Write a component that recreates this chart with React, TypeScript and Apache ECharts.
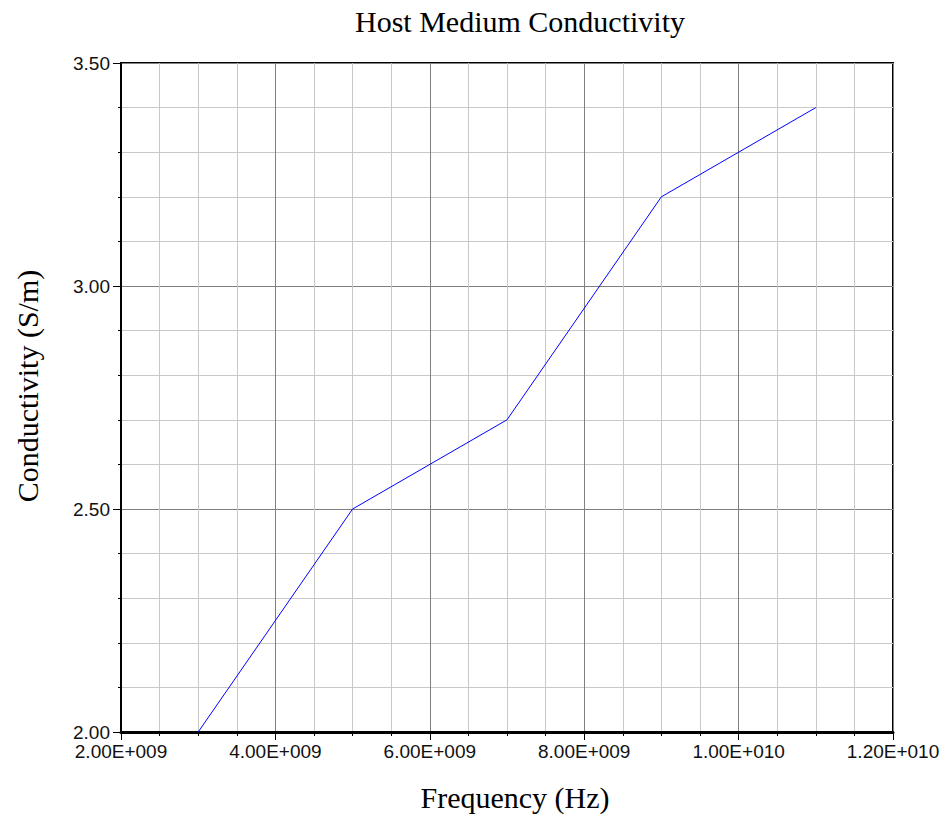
import React, { useEffect, useRef } from "react";
import * as echarts from "echarts";

const frequencies = [3e9, 5e9, 7e9, 9e9, 1.1e10];
const conductivity = [2.0, 2.5, 2.7, 3.2, 3.4];
const titleText = "Host Medium Conductivity";
const xName = "Frequency (Hz)";
const yName = "Conductivity (S/m)";

function sci(v: number): string {
  if (v === 0) return "0.00E+000";
  const exp = Math.floor(Math.log10(Math.abs(v)) + 1e-9);
  const mant = v / Math.pow(10, exp);
  return mant.toFixed(2) + "E+" + String(exp).padStart(3, "0");
}

export default function App() {
  const ref = useRef<HTMLDivElement>(null);
  useEffect(() => {
    if (!ref.current) return;
    const chart = echarts.init(ref.current, undefined, { renderer: "svg" });
    const labelFont = { fontFamily: "Liberation Sans", fontSize: 19, color: "#111" };
    chart.setOption({
      animation: false,
      backgroundColor: "#fff",
      grid: {
        left: 121,
        right: 50,
        top: 63,
        bottom: 82,
        show: true,
        borderColor: "#000",
        borderWidth: 2,
        backgroundColor: "transparent",
      },
      graphic: [
        {
          type: "text",
          x: 520,
          y: 21,
          style: {
            text: titleText,
            font: "30px 'Liberation Serif'",
            fill: "#000",
            textAlign: "center",
            textVerticalAlign: "middle",
          },
        },
        {
          type: "text",
          x: 515,
          y: 797,
          style: {
            text: xName,
            font: "30px 'Liberation Serif'",
            fill: "#000",
            textAlign: "center",
            textVerticalAlign: "middle",
          },
        },
        {
          type: "text",
          x: 27,
          y: 386,
          rotation: Math.PI / 2,
          style: {
            text: yName,
            font: "30px 'Liberation Serif'",
            fill: "#000",
            textAlign: "center",
            textVerticalAlign: "middle",
          },
        },
      ],
      xAxis: {
        type: "value",
        min: 2e9,
        max: 1.2e10,
        interval: 2e9,
        axisLine: { show: true, onZero: false, lineStyle: { color: "#000", width: 3 } },
        axisTick: { show: true, length: 8, lineStyle: { color: "#000", width: 1 } },
        minorTick: { show: true, splitNumber: 4, length: 4, lineStyle: { color: "#000", width: 1 } },
        axisLabel: { ...labelFont, margin: 10, formatter: (v: number) => sci(v) },
        splitLine: { show: true, lineStyle: { color: "#808080", width: 1 } },
        minorSplitLine: { show: true, lineStyle: { color: "#c8c8c8", width: 1 } },
      },
      yAxis: {
        type: "value",
        min: 2,
        max: 3.5,
        interval: 0.5,
        axisLine: { show: true, onZero: false, lineStyle: { color: "#000", width: 2 } },
        axisTick: { show: true, length: 8, lineStyle: { color: "#000", width: 1 } },
        minorTick: { show: true, splitNumber: 5, length: 3, lineStyle: { color: "#000", width: 1 } },
        axisLabel: { ...labelFont, margin: 11, formatter: (v: number) => v.toFixed(2) },
        splitLine: { show: true, lineStyle: { color: "#808080", width: 1 } },
        minorSplitLine: { show: true, lineStyle: { color: "#c8c8c8", width: 1 } },
      },
      series: [
        {
          type: "line",
          data: frequencies.map((f, i) => [f, conductivity[i]]),
          symbol: "none",
          lineStyle: { color: "#0000ff", width: 1 },
          itemStyle: { color: "#0000ff" },
        },
      ],
    });
    return () => chart.dispose();
  }, []);
  return (
    <div
      ref={ref}
      style={{ position: "absolute", left: 0, top: 0, width: 943, height: 814, background: "#fff" }}
    />
  );
}
